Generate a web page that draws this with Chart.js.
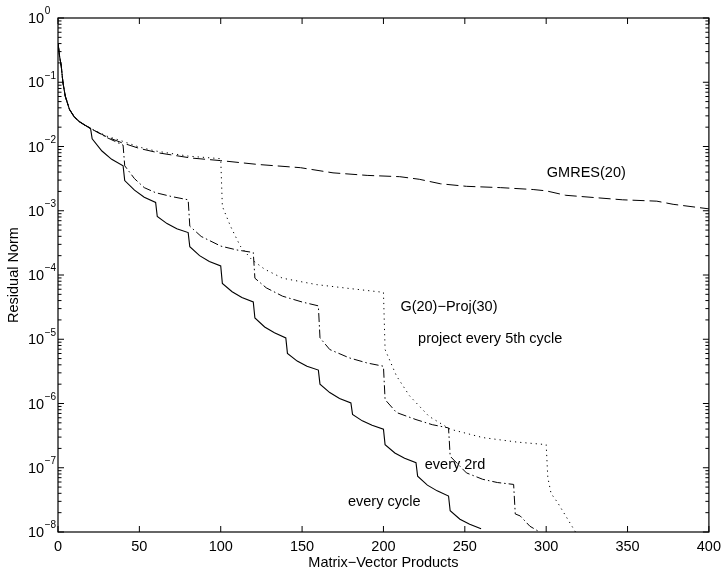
<!DOCTYPE html>
<html lang="en">
<head>
  <meta charset="UTF-8" />
  <title>GMRES(20) and G(20)-Proj(30) residual norms</title>
  <script src="https://cdn.jsdelivr.net/npm/chart.js"></script>
  <style>
    body {
      margin: 0;
      background: #fff;
    }
    #wrap {
      width: 727px;
      height: 574px;
    }
  </style>
</head>
<body>
  <div id="wrap">
    <canvas id="residualChart" width="727" height="574"></canvas>
  </div>

  <script>
    // first cycle, shared by every run
    const startX = [0, 1, 2, 3, 4.5, 7, 10, 13, 16, 20];
    const startY = [4.07e-1, 2.51e-1, 1.78e-1, 1.00e-1, 6.03e-2, 3.80e-2, 2.88e-2, 2.45e-2, 2.19e-2, 1.91e-2];

    // GMRES(20), dashed
    const gmresX = [30, 39, 50, 62, 82, 100, 123, 149, 169, 190, 210, 222, 235, 251, 272, 292, 300, 312, 347, 368, 378, 400];
    const gmresY = [1.41e-2, 1.15e-2, 9.33e-3, 7.94e-3, 6.61e-3, 6.03e-3, 5.25e-3, 4.68e-3, 3.89e-3, 3.55e-3, 3.39e-3,
                    3.09e-3, 2.63e-3, 2.40e-3, 2.29e-3, 2.14e-3, 2.04e-3, 1.74e-3, 1.48e-3, 1.41e-3, 1.26e-3, 1.07e-3];

    // project every 5th cycle, dotted
    const fifthX = [30, 40, 50, 60, 80, 100, 101, 106, 112, 119, 127, 138, 159, 179, 200, 201, 208, 216, 228, 241,
                    261, 282, 300, 301, 303, 307, 312, 318];
    const fifthY = [1.45e-2, 1.20e-2, 9.77e-3, 8.51e-3, 7.08e-3, 6.46e-3, 1.17e-3, 5.75e-4, 2.82e-4, 1.74e-4, 1.23e-4,
                    8.91e-5, 7.08e-5, 6.17e-5, 5.37e-5, 6.92e-6, 2.69e-6, 1.32e-6, 6.31e-7, 3.98e-7, 2.95e-7, 2.51e-7,
                    2.29e-7, 7.08e-8, 3.98e-8, 2.88e-8, 1.78e-8, 1.00e-8];

    // project every 2nd cycle, dash-dot
    const secondX = [30, 40, 41, 47, 53, 60, 70, 80, 81, 88, 100, 110, 120, 121, 128, 138, 150, 160, 161, 167, 179,
                     190, 200, 201, 208, 220, 230, 240, 241, 251, 261, 270, 280, 281, 284, 290, 296];
    const secondY = [1.38e-2, 1.05e-2, 5.01e-3, 3.16e-3, 2.29e-3, 1.91e-3, 1.66e-3, 1.48e-3, 5.75e-4, 3.98e-4, 2.82e-4,
                     2.45e-4, 2.24e-4, 8.91e-5, 6.31e-5, 4.68e-5, 3.80e-5, 3.31e-5, 1.05e-5, 6.92e-6, 5.13e-6, 4.27e-6,
                     3.80e-6, 1.15e-6, 7.24e-7, 5.62e-7, 4.68e-7, 4.17e-7, 1.51e-7, 8.32e-8, 6.61e-8, 5.89e-8, 5.50e-8,
                     1.91e-8, 1.78e-8, 1.23e-8, 1.00e-8];

    // project every cycle, solid
    const everyX = [21, 27, 33, 40, 41, 47, 53, 60, 61, 67, 73, 80, 81, 87, 93, 100, 101, 107, 113, 120, 121, 127, 133,
                    140, 141, 147, 153, 160, 161, 167, 173, 180, 181, 187, 193, 200, 201, 207, 213, 220, 221, 227, 233,
                    240, 241, 247, 253, 260];
    const everyY = [1.32e-2, 8.51e-3, 6.31e-3, 5.01e-3, 2.95e-3, 2.09e-3, 1.62e-3, 1.35e-3, 8.13e-4, 6.31e-4, 5.25e-4,
                    4.57e-4, 2.75e-4, 2.00e-4, 1.62e-4, 1.38e-4, 7.41e-5, 5.50e-5, 4.47e-5, 3.80e-5, 2.14e-5, 1.55e-5,
                    1.26e-5, 1.05e-5, 6.03e-6, 4.57e-6, 3.80e-6, 3.31e-6, 2.00e-6, 1.48e-6, 1.20e-6, 1.02e-6, 6.76e-7,
                    5.37e-7, 4.57e-7, 3.98e-7, 2.29e-7, 1.70e-7, 1.41e-7, 1.20e-7, 7.41e-8, 5.37e-8, 4.37e-8, 3.63e-8,
                    2.14e-8, 1.58e-8, 1.32e-8, 1.12e-8];

    const xTicks = [0, 50, 100, 150, 200, 250, 300, 350, 400];
    const yTickValues = [1, 1e-1, 1e-2, 1e-3, 1e-4, 1e-5, 1e-6, 1e-7, 1e-8];
    const yTickExps = ['0', '\u22121', '\u22122', '\u22123', '\u22124', '\u22125', '\u22126', '\u22127', '\u22128'];
    const minorSteps = [2, 3, 4, 5, 6, 7, 8, 9];

    const FONT = "'Liberation Sans', Arial, Helvetica, sans-serif";

    // curve labels, placed in data units
    const notes = [
      { text: 'GMRES(20)', x: 300.4, y: 3.80e-3 },
      { text: 'G(20)\u2212Proj(30)', x: 210.4, y: 3.16e-5 },
      { text: 'project every 5th cycle', x: 221.3, y: 1.00e-5 },
      { text: 'every 2rd', x: 225.4, y: 1.10e-7 },
      { text: 'every cycle', x: 178.2, y: 2.95e-8 }
    ];

    function toPoints(xs, ys) {
      const allX = startX.concat(xs);
      const allY = startY.concat(ys);
      return allX.map((x, i) => ({ x: x, y: allY[i] }));
    }

    // box, inward ticks, y labels with exponents, curve notes
    const matlabAxes = {
      id: 'matlabAxes',
      afterDatasetsDraw(chart) {
        const { ctx, chartArea } = chart;
        const { left, right, top, bottom } = chartArea;
        const xs = chart.scales.x;
        const ys = chart.scales.y;

        ctx.save();
        ctx.strokeStyle = '#000';
        ctx.lineWidth = 1.2;
        ctx.strokeRect(left, top, right - left, bottom - top);

        ctx.lineWidth = 1;
        ctx.beginPath();
        xTicks.forEach(v => {
          const px = xs.getPixelForValue(v);
          ctx.moveTo(px, bottom);
          ctx.lineTo(px, bottom - 6);
          ctx.moveTo(px, top);
          ctx.lineTo(px, top + 6);
        });
        yTickValues.forEach((v, i) => {
          const py = ys.getPixelForValue(v);
          ctx.moveTo(left, py);
          ctx.lineTo(left + 6, py);
          ctx.moveTo(right, py);
          ctx.lineTo(right - 6, py);
          if (i < yTickValues.length - 1) {
            minorSteps.forEach(m => {
              const pm = ys.getPixelForValue(yTickValues[i + 1] * m);
              ctx.moveTo(left, pm);
              ctx.lineTo(left + 3.5, pm);
              ctx.moveTo(right, pm);
              ctx.lineTo(right - 3.5, pm);
            });
          }
        });
        ctx.stroke();

        ctx.fillStyle = '#000';
        ctx.textAlign = 'left';
        ctx.textBaseline = 'middle';
        yTickValues.forEach((v, i) => {
          const py = ys.getPixelForValue(v);
          ctx.font = '14.5px ' + FONT;
          ctx.fillText('10', 28, py + 1);
          const w = ctx.measureText('10').width;
          ctx.font = '10px ' + FONT;
          ctx.fillText(yTickExps[i], 28 + w + 0.5, py - 6.5);
        });

        ctx.font = '14.5px ' + FONT;
        notes.forEach(n => {
          ctx.fillText(n.text, xs.getPixelForValue(n.x), ys.getPixelForValue(n.y));
        });
        ctx.restore();
      }
    };

    new Chart(document.getElementById('residualChart'), {
      type: 'scatter',
      data: {
        datasets: [
          {
            label: 'project every 5th cycle',
            data: toPoints(fifthX, fifthY),
            borderColor: '#000',
            borderWidth: 1,
            borderDash: [1.2, 4]
          },
          {
            label: 'every 2nd',
            data: toPoints(secondX, secondY),
            borderColor: '#000',
            borderWidth: 1,
            borderDash: [9, 3, 1.5, 3]
          },
          {
            label: 'GMRES(20)',
            data: toPoints(gmresX, gmresY),
            borderColor: '#000',
            borderWidth: 1,
            borderDash: [12, 5]
          },
          {
            label: 'every cycle',
            data: toPoints(everyX, everyY),
            borderColor: '#000',
            borderWidth: 1.1
          }
        ]
      },
      options: {
        responsive: false,
        animation: false,
        showLine: true,
        elements: {
          point: { radius: 0, hoverRadius: 0 },
          line: { tension: 0 }
        },
        layout: {
          padding: { top: 18, right: 18, left: 0, bottom: 0 }
        },
        plugins: {
          legend: { display: false },
          tooltip: { enabled: false }
        },
        scales: {
          x: {
            type: 'linear',
            min: 0,
            max: 400,
            grid: { display: false, drawTicks: false },
            border: { display: false },
            afterBuildTicks: (scale) => {
              scale.ticks = xTicks.map(v => ({ value: v }));
            },
            afterFit: (scale) => {
              scale.height = 42;
            },
            ticks: {
              color: '#000',
              padding: 6,
              maxRotation: 0,
              font: { family: FONT, size: 14.5 }
            },
            title: {
              display: true,
              text: 'Matrix\u2212Vector Products',
              color: '#000',
              padding: { top: 0, bottom: 2 },
              font: { family: FONT, size: 14.5 }
            }
          },
          y: {
            type: 'logarithmic',
            min: 1e-8,
            max: 1,
            grid: { display: false, drawTicks: false },
            border: { display: false },
            ticks: { display: false },
            afterFit: (scale) => {
              scale.width = 58;
            },
            title: {
              display: true,
              text: 'Residual Norm',
              color: '#000',
              padding: { top: 5, bottom: 0 },
              font: { family: FONT, size: 14.5 }
            }
          }
        }
      },
      plugins: [matlabAxes]
    });
  </script>
</body>
</html>
